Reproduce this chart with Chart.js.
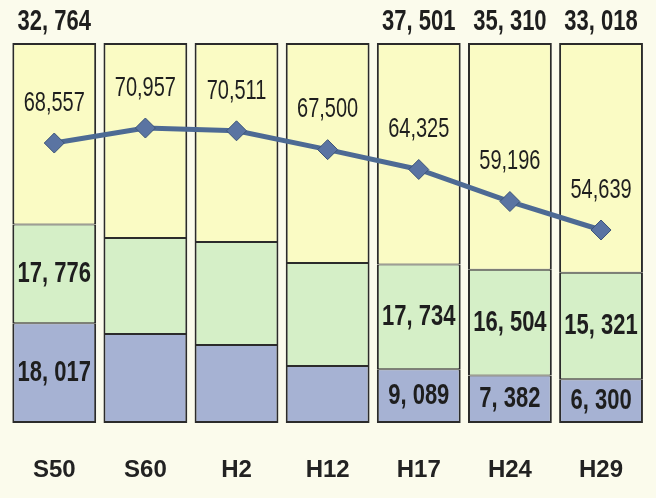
<!DOCTYPE html>
<html>
<head>
<meta charset="utf-8">
<script src="https://cdn.jsdelivr.net/npm/chart.js@4/dist/chart.umd.min.js"></script>
<style>
  html, body { margin: 0; padding: 0; background: #fbfbec; }
  #wrap { width: 656px; height: 498px; }
</style>
</head>
<body>
<div id="wrap"><canvas id="c" width="656" height="498"></canvas></div>
<script>
const LABELS   = ['S50', 'S60', 'H2', 'H12', 'H17', 'H24', 'H29'];
const BLUE     = [18017, 16620, 14470, 10125, 9089, 7382, 6300];
const GREEN    = [17776, 17930, 19110, 18290, 17734, 16504, 15321];
const YELLOW   = [32764, 36407, 36931, 39085, 37501, 35310, 33018];
const TOTALS   = [68557, 70957, 70511, 67500, 64325, 59196, 54639];
// which segment values are printed in the original
const SHOWN    = [true, false, false, false, true, true, true];

const FONT = '"Liberation Sans", Arial, sans-serif';

function share(arr) {
    return arr.map((v, i) => v / (BLUE[i] + GREEN[i] + YELLOW[i]));
}

function fmtSpaced(v) {
    return v.toString().replace(/\B(?=(\d{3})+(?!\d))/g, ', ');
}

function fmt(v) {
    return v.toString().replace(/\B(?=(\d{3})+(?!\d))/g, ',');
}

// the print uses a tall condensed face, so stretch the text vertically
function tallText(ctx, text, x, y, font, sy) {
    ctx.save();
    ctx.translate(x, y);
    ctx.scale(1, sy);
    ctx.font = font;
    ctx.fillText(text, 0, 0);
    ctx.restore();
}

const labelPlugin = {
    id: 'labels',
    afterDatasetsDraw(chart) {
        const ctx = chart.ctx;
        ctx.save();
        ctx.fillStyle = '#1e1e1e';
        ctx.textAlign = 'center';
        ctx.textBaseline = 'middle';

        const segs = [BLUE, GREEN, YELLOW];
        segs.forEach((vals, di) => {
            const meta = chart.getDatasetMeta(di);
            meta.data.forEach((bar, i) => {
                if (!SHOWN[i]) return;
                let y;
                if (di === 2) y = chart.chartArea.top - 21;
                else y = (bar.y + bar.base) / 2;
                tallText(ctx, fmtSpaced(vals[i]), bar.x, y, 'bold 22px ' + FONT, 1.3);
            });
        });

        const lineMeta = chart.getDatasetMeta(3);
        lineMeta.data.forEach((pt, i) => {
            tallText(ctx, fmt(TOTALS[i]), pt.x, pt.y - 40, '20px ' + FONT, 1.4);
        });
        ctx.restore();
    }
};

const barStyle = {
    borderColor: '#2b2b2b',
    borderSkipped: false,
    barPercentage: 0.92,
    categoryPercentage: 1,
    stack: 's',
    order: 1,
};

new Chart(document.getElementById('c'), {
    type: 'bar',
    data: {
        labels: LABELS,
        datasets: [
            { ...barStyle, label: 'blue',   data: share(BLUE),   backgroundColor: '#a6b2d3',
              borderWidth: { top: 1, bottom: 2, left: 2, right: 2 } },
            { ...barStyle, label: 'green',  data: share(GREEN),  backgroundColor: '#d5efc7',
              borderWidth: { top: 1, bottom: 1, left: 2, right: 2 } },
            { ...barStyle, label: 'yellow', data: share(YELLOW), backgroundColor: '#fafbc4',
              borderWidth: { top: 2, bottom: 1, left: 2, right: 2 } },
            {
                type: 'line',
                label: 'total',
                data: TOTALS,
                yAxisID: 'y1',
                order: 0,
                borderColor: '#4d6a94',
                borderWidth: 5,
                tension: 0,
                pointStyle: 'rectRot',
                pointRadius: 10,
                pointBackgroundColor: '#5a74a2',
                pointBorderColor: '#3c5479',
                pointBorderWidth: 1,
            },
        ],
    },
    options: {
        responsive: false,
        animation: false,
        layout: { autoPadding: false, padding: { top: 43, left: 8, right: 0, bottom: 0 } },
        plugins: {
            legend: { display: false },
            tooltip: { enabled: false },
        },
        scales: {
            x: {
                stacked: true,
                border: { display: false },
                grid: { display: false, drawTicks: false },
                afterFit: s => { s.height = 75; },
                ticks: {
                    color: '#222',
                    padding: 33,
                    font: { family: FONT, size: 24, weight: 'bold' },
                },
            },
            y: {
                stacked: true,
                display: false,
                min: 0,
                max: 1,
            },
            y1: {
                display: false,
                min: 23760,
                max: 84560,
            },
        },
    },
    plugins: [labelPlugin],
});
</script>
</body>
</html>
